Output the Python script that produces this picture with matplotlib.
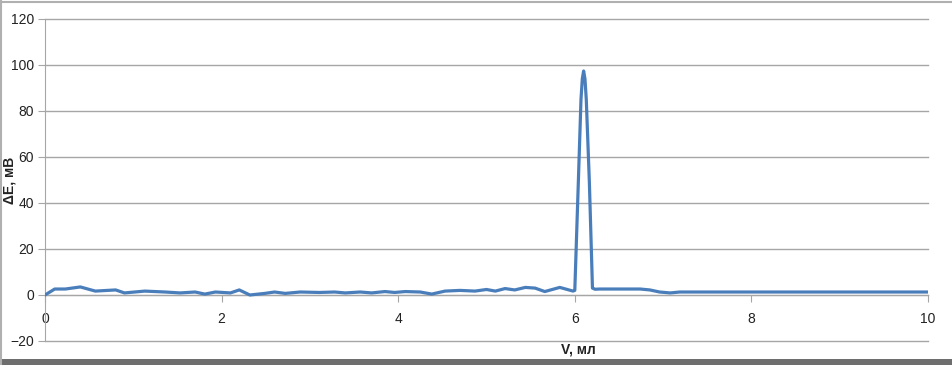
import matplotlib
matplotlib.use("Agg")
import matplotlib.pyplot as plt
from matplotlib.patches import Rectangle
from matplotlib.lines import Line2D

# Data
volume_ml = [0.00, 0.11, 0.23, 0.40, 0.57, 0.80, 0.90, 1.13, 1.36, 1.53, 1.70, 1.81,
             1.93, 2.10, 2.20, 2.32, 2.49, 2.60, 2.72, 2.89, 3.11, 3.28, 3.40, 3.57,
             3.70, 3.85, 3.96, 4.08, 4.25, 4.38, 4.53, 4.70, 4.87, 5.00, 5.10, 5.21,
             5.32, 5.44, 5.55, 5.66, 5.83, 5.98, 6.00, 6.04, 6.07, 6.085, 6.10, 6.115,
             6.13, 6.165, 6.20, 6.23, 6.28, 6.74, 6.85, 6.96, 7.08, 7.19, 7.42, 8.00,
             9.00, 10.00]
delta_e_mv = [0.0, 2.6, 2.6, 3.5, 1.7, 2.2, 0.9, 1.7, 1.3, 0.9, 1.3, 0.4,
              1.3, 0.9, 2.2, 0.0, 0.7, 1.3, 0.7, 1.3, 1.1, 1.3, 0.9, 1.3,
              0.9, 1.5, 1.1, 1.5, 1.3, 0.4, 1.7, 2.0, 1.7, 2.4, 1.7, 2.8,
              2.2, 3.3, 3.0, 1.5, 3.3, 1.7, 2.0, 49.0, 85.0, 94.0, 97.4, 94.0,
              85.0, 49.0, 3.0, 2.5, 2.6, 2.6, 2.2, 1.3, 0.9, 1.3, 1.3, 1.3,
              1.3, 1.3]
x_ticks = [0, 2, 4, 6, 8, 10]
y_ticks = [-20, 0, 20, 40, 60, 80, 100, 120]
x_label = "V, мл"
y_label = "ΔE, мВ"

W, H = 952, 365
fig = plt.figure(figsize=(W / 100, H / 100), dpi=100)
fig.patch.set_facecolor("white")

font = ["Liberation Sans Narrow", "Liberation Sans", "DejaVu Sans"]

ax = fig.add_axes([45 / W, (H - 341) / H, (928 - 45) / W, (341 - 19) / H])
ax.plot(volume_ml, delta_e_mv, color="#4A7EBB", lw=2.3, solid_joinstyle="round",
        solid_capstyle="round", zorder=3)

ax.set_xlim(0, 10)
ax.set_ylim(-20, 120)
ax.set_xticks(x_ticks)
ax.set_yticks(y_ticks)
ax.yaxis.grid(True, color="#A6A6A6", lw=1.0)
for gl in ax.get_ygridlines():
    gl.set_clip_on(False)
ax.set_axisbelow(True)

for s in ["top", "right"]:
    ax.spines[s].set_visible(False)
ax.spines["left"].set_color("#A6A6A6")
ax.spines["bottom"].set_position(("data", 0))
ax.spines["bottom"].set_color("#A6A6A6")

ax.tick_params(axis="x", direction="out", length=5, color="#A6A6A6", pad=7,
               labelsize=10, labelcolor="#222222")
ax.tick_params(axis="y", direction="out", length=5, color="#A6A6A6", pad=3,
               labelsize=10, labelcolor="#222222")
for lab in ax.get_xticklabels() + ax.get_yticklabels():
    lab.set_family(font)

fig.text(578 / W, 1 - 350 / H, x_label, ha="center", va="center",
         fontsize=10, fontweight="bold", family=font, color="#222222", zorder=10)
fig.text(10 / W, 1 - 180 / H, y_label, ha="center", va="center", rotation=90,
         fontsize=10, fontweight="bold", family=font, color="#222222")

# figure frame
fig.add_artist(Line2D([0.5 / W, 0.5 / W], [0, 1], transform=fig.transFigure,
                      color="#B0B0B0", lw=1.5))
fig.add_artist(Line2D([0, 1], [1 - 1.5 / H, 1 - 1.5 / H], transform=fig.transFigure,
                      color="#B0B0B0", lw=1.5))
fig.add_artist(Rectangle((0, 0), 1, 6 / H, transform=fig.transFigure,
                         facecolor="#6E6E6E", edgecolor="none", zorder=1))

fig.savefig("out.png", dpi=100)
